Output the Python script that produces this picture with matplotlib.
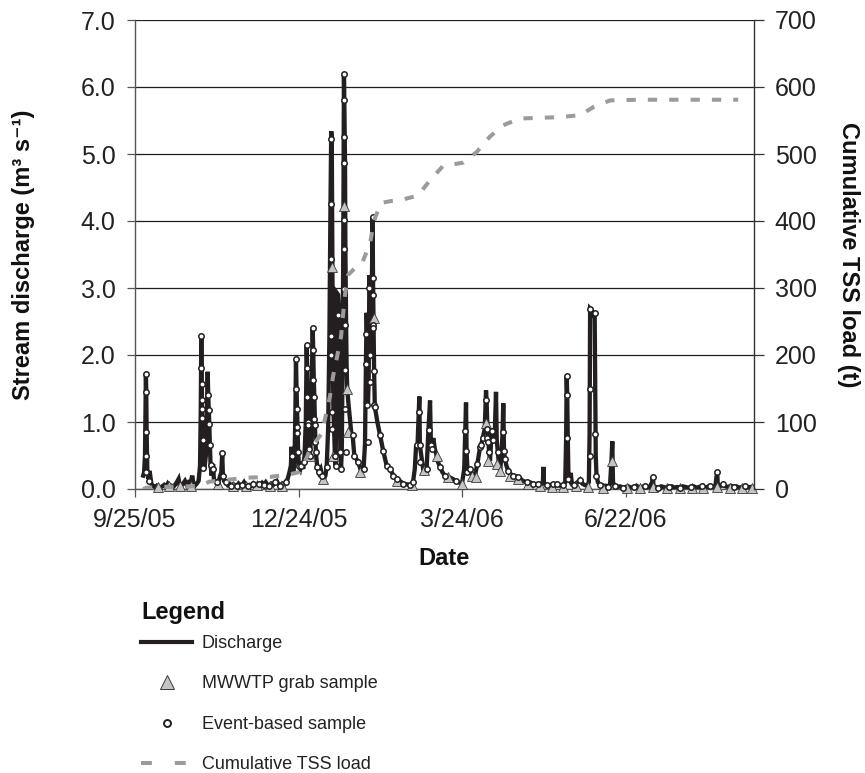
import matplotlib
matplotlib.use("Agg")
import matplotlib.pyplot as plt
from matplotlib.lines import Line2D
from matplotlib.ticker import FixedLocator, FuncFormatter
import matplotlib.dates as mdates
import numpy as np
import pandas as pd

START = pd.Timestamp("2005-09-25")

# stream discharge (days after 9/25/05, m3/s)
Q_DAYS = [
    4.5, 5.0, 5.5, 5.8, 6.0, 6.2, 6.4, 6.6, 6.8, 7.3,
    8.0, 8.4, 9.0, 10, 11, 12, 13, 14, 15, 16,
    17, 18, 19, 20, 21, 22, 23, 24, 24.6, 25.5,
    26.5, 27.5, 28.5, 29.5, 30.5, 31.5, 32.2, 33, 34, 35,
    35.8, 36.2, 36.5, 36.7, 36.9, 37.1, 37.4, 37.7, 38.2, 39,
    39.6, 40.0, 40.3, 40.6, 40.9, 41.2, 41.6, 42.2, 43.0, 43.4,
    44, 45, 46, 47.5, 48, 48.4, 49, 50, 51, 52,
    53, 54, 55, 56, 57, 58, 59, 60, 61, 62,
    63, 64, 65, 66, 67, 68, 69, 70, 71, 72,
    73, 74, 75, 76, 77, 78, 79, 80, 81, 82,
    83, 84, 85, 85.8, 86.2, 86.6, 87.2, 87.8, 88.3, 88.6,
    88.9, 89.2, 89.5, 89.8, 90.2, 91.0, 91.8, 92.6, 93.3, 94.0,
    94.5, 94.8, 95.1, 95.4, 95.7, 96.2, 96.8, 97.3, 97.8, 98.1,
    98.4, 98.7, 99.0, 99.3, 99.7, 100.3, 101.2, 102.2, 103.0, 104.0,
    104.8, 105.5, 106.3, 107.0, 107.6, 108.0, 108.3, 108.6, 108.9, 109.2,
    109.6, 110.0, 110.4, 110.8, 111.0, 111.8, 112.4, 112.7, 113.0, 113.4,
    113.8, 114.3, 114.7, 115.0, 115.2, 115.4, 115.6, 115.8, 116.0, 116.2,
    116.5, 116.8, 117.4, 118.3, 119.0, 119.8, 120.7, 121.8, 122.9, 124.0,
    124.8, 125.8, 126.6, 127.1, 127.5, 127.8, 128.2, 128.6, 129.0, 129.4,
    129.8, 130.3, 130.8, 131.0, 131.3, 131.6, 132.0, 133.4, 134.9, 136.7,
    138.5, 140.4, 142.2, 144.0, 145.8, 147.7, 149.5, 151.4, 153.0, 154.0,
    154.7, 155.5, 156.2, 156.5, 156.8, 157.3, 158.0, 158.7, 159.6, 160.5,
    161.5, 162.4, 162.8, 163.4, 164.2, 165.0, 165.8, 166.8, 167.9, 169.2,
    170.6, 172.0, 173.4, 175.0, 176.5, 178.0, 179.0, 180.0, 181.2, 181.8,
    182.2, 182.5, 183.0, 184.4, 185.5, 186.5, 187.5, 188.4, 189.2, 189.9,
    190.6, 191.4, 192.5, 193.2, 193.5, 193.9, 194.4, 194.9, 195.4, 196.3,
    197.2, 198.0, 198.7, 199.1, 199.7, 200.3, 201.0, 201.8, 202.3, 202.7,
    203.1, 203.6, 204.4, 205.5, 206.8, 208.3, 209.6, 211.0, 212.3, 213.6,
    215.5, 217.4, 219.0, 220.6, 222.0, 223.0, 224.5, 224.8, 225.1, 226.5,
    228.4, 229.8, 231.0, 232.5, 234.0, 235.5, 236.8, 237.3, 237.6, 237.9,
    238.2, 238.6, 239.3, 239.8, 240.4, 241.5, 242.5, 243.5, 245.0, 246.2,
    247.5, 248.8, 249.8, 250.2, 250.5, 251.5, 252.5, 253.0, 253.3, 253.6,
    254.0, 254.8, 256.0, 257.5, 259.0, 260.5, 261.5, 262.3, 262.7, 263.1,
    264.0, 265.5, 267.0, 268.5, 270.0, 271.5, 273.0, 274.5, 276.0, 277.5,
    279.0, 280.5, 282.0, 283.5, 284.6, 285.0, 285.4, 286.5, 288.0, 289.5,
    291.0, 292.5, 294.0, 295.5, 297.0, 298.5, 300.0, 301.5, 303.0, 304.5,
    306.0, 307.5, 309.0, 310.5, 312.0, 313.5, 315.0, 316.5, 318.0, 319.5,
    320.4, 320.8, 322.0, 323.5, 325.0, 326.5, 328.0, 329.5, 331.0, 332.5,
    334.0, 335.5, 337.0, 338.5, 340.0,
]
Q_M3S = [
    0.20, 0.25, 0.50, 1.20, 1.72, 1.45, 0.85, 0.50, 0.25, 0.15,
    0.27, 0.20, 0.08, 0.04, 0.03, 0.05, 0.03, 0.02, 0.04, 0.06,
    0.03, 0.08, 0.04, 0.05, 0.03, 0.06, 0.10, 0.15, 0.06, 0.05,
    0.08, 0.12, 0.06, 0.10, 0.08, 0.20, 0.06, 0.05, 0.08, 0.12,
    0.35, 1.20, 2.29, 1.57, 1.19, 1.00, 0.70, 0.35, 0.30, 0.50,
    1.20, 1.75, 1.40, 1.18, 0.97, 0.66, 0.36, 0.20, 0.37, 0.15,
    0.12, 0.10, 0.12, 0.25, 0.53, 0.20, 0.12, 0.10, 0.06, 0.08,
    0.05, 0.07, 0.06, 0.04, 0.08, 0.05, 0.06, 0.10, 0.05, 0.04,
    0.06, 0.05, 0.08, 0.04, 0.06, 0.07, 0.05, 0.09, 0.06, 0.10,
    0.06, 0.05, 0.08, 0.06, 0.10, 0.12, 0.07, 0.05, 0.08, 0.06,
    0.10, 0.15, 0.25, 0.35, 0.63, 0.30, 0.25, 0.40, 1.20, 1.94,
    1.50, 1.20, 0.93, 0.55, 0.35, 0.30, 0.40, 0.30, 0.50, 1.00,
    2.15, 1.80, 1.38, 0.95, 0.60, 0.50, 0.70, 1.60, 2.40, 2.07,
    1.63, 1.38, 1.05, 0.70, 0.50, 0.33, 0.25, 0.30, 0.20, 0.15,
    0.20, 0.33, 0.90, 2.28, 4.26, 5.34, 5.22, 3.43, 2.00, 1.15,
    0.90, 0.50, 0.35, 1.30, 2.93, 2.90, 2.60, 1.78, 0.55, 0.30,
    0.55, 2.00, 4.01, 6.20, 5.80, 5.26, 4.86, 3.58, 2.98, 2.45,
    1.78, 1.50, 1.30, 1.05, 0.85, 0.80, 0.50, 0.45, 0.40, 0.30,
    0.27, 0.30, 0.68, 1.87, 2.63, 2.31, 1.25, 1.60, 3.19, 3.00,
    2.00, 2.90, 4.06, 3.15, 2.45, 1.76, 1.23, 1.00, 0.80, 0.56,
    0.35, 0.30, 0.20, 0.15, 0.12, 0.08, 0.07, 0.06, 0.10, 0.30,
    0.64, 0.65, 1.15, 1.38, 0.65, 0.55, 0.40, 0.28, 0.25, 0.30,
    0.88, 1.32, 0.76, 0.65, 0.76, 0.60, 0.52, 0.40, 0.33, 0.25,
    0.20, 0.19, 0.17, 0.15, 0.12, 0.10, 0.09, 0.08, 0.30, 0.87,
    1.29, 0.56, 0.30, 0.30, 0.21, 0.18, 0.25, 0.37, 0.50, 0.62,
    0.66, 0.76, 0.90, 1.47, 1.33, 0.98, 0.76, 0.55, 0.42, 0.87,
    0.70, 0.80, 1.45, 0.73, 0.55, 0.38, 0.27, 0.55, 0.85, 1.28,
    0.56, 0.45, 0.35, 0.27, 0.22, 0.20, 0.19, 0.18, 0.15, 0.12,
    0.10, 0.10, 0.08, 0.07, 0.08, 0.06, 0.10, 0.33, 0.08, 0.06,
    0.05, 0.07, 0.05, 0.08, 0.05, 0.06, 0.10, 0.76, 1.69, 1.40,
    0.76, 0.15, 0.12, 0.24, 0.10, 0.06, 0.08, 0.10, 0.14, 0.08,
    0.06, 0.05, 0.10, 0.82, 2.69, 2.66, 2.60, 2.63, 1.49, 0.49,
    0.20, 0.10, 0.06, 0.04, 0.05, 0.03, 0.08, 0.45, 0.71, 0.10,
    0.05, 0.03, 0.04, 0.02, 0.03, 0.04, 0.02, 0.03, 0.05, 0.02,
    0.03, 0.04, 0.02, 0.04, 0.10, 0.18, 0.05, 0.03, 0.02, 0.04,
    0.03, 0.02, 0.03, 0.04, 0.02, 0.03, 0.02, 0.04, 0.03, 0.02,
    0.03, 0.04, 0.02, 0.03, 0.04, 0.02, 0.03, 0.05, 0.03, 0.05,
    0.26, 0.05, 0.04, 0.07, 0.04, 0.03, 0.05, 0.03, 0.04, 0.02,
    0.03, 0.04, 0.02, 0.03, 0.03,
]

# event-based samples
EV_DAYS = [
    6.0, 6.0, 6.1, 6.2, 6.3, 7.5, 36.5, 36.6, 36.7, 36.8,
    36.9, 37.0, 37.3, 37.7, 40.3, 40.6, 40.9, 41.2, 41.6, 43.0,
    48.0, 48.4, 45, 50, 53, 56, 59, 62, 65, 68,
    71, 74, 77, 80, 83, 86.2, 88.6, 88.7, 88.9, 89.1,
    89.3, 89.8, 90.5, 91.5, 93.0, 94.5, 94.6, 94.8, 95.0, 95.2,
    95.5, 96.2, 97.8, 97.9, 98.1, 98.3, 98.6, 98.8, 99.2, 99.6,
    100.3, 101.2, 103.0, 105.5, 107.8, 107.8, 107.9, 107.9, 108.0, 108.3,
    108.6, 110.0, 110.4, 111.5, 112.7, 113.4, 115.0, 115.0, 115.0, 115.1,
    115.1, 115.2, 115.3, 115.4, 115.6, 115.8, 116.2, 119.8, 120.7, 122.9,
    125.8, 127.1, 127.3, 127.6, 128.0, 129.0, 129.2, 129.4, 130.8, 130.8,
    130.9, 131.0, 131.1, 131.3, 131.6, 132.0, 134.9, 136.7, 138.5, 140.4,
    142.2, 144.0, 147.7, 151.4, 153.0, 155.0, 156.3, 156.6, 157.0, 160.5,
    161.8, 163.0, 163.5, 167.9, 170.6, 176.5, 181.8, 182.3, 182.6, 184.4,
    188.4, 189.9, 190.6, 191.4, 193.2, 193.6, 193.9, 194.2, 194.9, 196.3,
    197.2, 199.7, 202.3, 202.9, 203.5, 205.5, 208.3, 211.0, 215.5, 219.0,
    222.0, 226.5, 229.8, 232.5, 235.5, 237.6, 237.7, 237.9, 238.6, 241.5,
    245.0, 250.4, 250.4, 250.5, 253.0, 253.2, 253.6, 256.0, 260.5, 264.0,
    268.5, 274.5, 280.5, 285.0, 288.0, 294.0, 300.0, 306.0, 312.0, 316.5,
    320.4, 323.5, 329.5, 335.5,
]
EV_Q = [
    1.72, 1.45, 0.85, 0.50, 0.25, 0.12, 2.29, 1.81, 1.57, 1.33,
    1.19, 1.06, 0.73, 0.31, 1.40, 1.18, 0.97, 0.66, 0.36, 0.30,
    0.53, 0.20, 0.10, 0.10, 0.05, 0.04, 0.06, 0.04, 0.08, 0.07,
    0.06, 0.05, 0.10, 0.05, 0.10, 0.50, 1.94, 1.49, 1.20, 0.93,
    0.83, 0.55, 0.35, 0.35, 0.40, 2.15, 1.80, 1.38, 1.00, 0.95,
    0.60, 0.50, 2.40, 2.07, 1.63, 1.38, 1.05, 0.95, 0.70, 0.55,
    0.33, 0.25, 0.20, 0.33, 5.22, 4.26, 3.43, 2.28, 2.00, 1.15,
    0.90, 0.50, 0.35, 2.60, 0.55, 0.30, 6.20, 5.80, 5.26, 4.86,
    4.01, 3.58, 2.98, 2.45, 1.78, 1.20, 0.55, 0.80, 0.50, 0.40,
    0.30, 1.87, 2.31, 1.25, 0.70, 3.00, 2.00, 1.60, 4.06, 3.15,
    2.89, 2.45, 2.40, 1.76, 1.25, 1.23, 0.80, 0.56, 0.35, 0.30,
    0.20, 0.15, 0.08, 0.06, 0.10, 0.65, 1.15, 0.65, 0.40, 0.30,
    0.88, 0.65, 0.60, 0.33, 0.20, 0.12, 0.87, 0.56, 0.25, 0.30,
    0.37, 0.62, 0.66, 0.76, 1.33, 0.89, 0.76, 0.70, 0.55, 0.87,
    0.73, 0.55, 0.85, 0.56, 0.45, 0.27, 0.20, 0.18, 0.10, 0.08,
    0.08, 0.06, 0.07, 0.08, 0.06, 1.69, 1.40, 0.76, 0.15, 0.06,
    0.14, 1.49, 0.49, 2.69, 2.63, 0.82, 0.20, 0.06, 0.03, 0.05,
    0.02, 0.03, 0.04, 0.18, 0.02, 0.03, 0.02, 0.03, 0.04, 0.05,
    0.26, 0.07, 0.03, 0.04,
]

# MWWTP grab samples
GRAB_DAYS = [
    12.7, 18.7, 24.8, 31.0, 45.7, 54.0, 61.0, 67.0, 74.3, 80.7,
    96.2, 103.7, 108.3, 109.2, 115.2, 116.5, 117.4, 123.9, 131.7, 144.0,
    152.3, 159.0, 166.0, 172.4, 179.8, 185.3, 187.7, 193.2, 194.5, 199.0,
    201.0, 206.4, 211.0, 216.3, 223.0, 229.5, 235.8, 242.5, 249.5, 257.8,
    262.7, 270.6, 278.0, 285.3, 292.6, 300.0, 306.4, 312.8, 320.2, 327.5,
    333.9, 339.4,
]
GRAB_Q = [
    0.03, 0.05, 0.04, 0.05, 0.08, 0.05, 0.04, 0.06, 0.05, 0.05,
    0.50, 0.15, 3.32, 0.50, 4.22, 1.50, 0.85, 0.26, 2.55, 0.12,
    0.06, 0.28, 0.50, 0.18, 0.08, 0.20, 0.18, 0.98, 0.42, 0.38,
    0.27, 0.20, 0.15, 0.08, 0.04, 0.03, 0.03, 0.04, 0.03, 0.02,
    0.42, 0.02, 0.02, 0.03, 0.02, 0.02, 0.02, 0.02, 0.03, 0.02,
    0.02, 0.02,
]

# cumulative TSS load (t)
TSS_DAYS = [
    4.5, 6.5, 14, 30, 36, 41, 62.4, 74.3, 85.3, 88.6,
    90.8, 97.3, 102.8, 107.3, 109.0, 111.2, 113.4, 114.5, 115.6, 117.2,
    121.1, 125.0, 129.4, 131.6, 135.4, 141.5, 145.9, 155.8, 162.4, 169.5,
    180.5, 188.1, 195.4, 202.7, 211.9, 233.9, 245.0, 252.3, 261.5, 278.0,
    332.0,
]
TSS_T = [
    0, 2, 3, 4, 5, 11, 17, 18, 22, 24,
    26, 63, 83, 138, 168, 197, 227, 260, 290, 319,
    330, 337, 367, 401, 427, 430, 431, 438, 461, 482,
    487, 503, 526, 543, 553, 555, 558, 570, 580, 581,
    581,
]

TICK_DAYS = [0, 90, 180, 270]

Q_COLOR = "#231f20"
TSS_COLOR = "#9b9b9b"
TRI_FACE = "#c4c4c4"


def to_dates(days):
    return (START + pd.to_timedelta(np.asarray(days, dtype=float), unit="D")).to_numpy()


def date_label(x, pos=None):
    d = mdates.num2date(x)
    return f"{d.month}/{d.day}/{d:%y}"


plt.rcParams["font.family"] = ["Liberation Sans", "DejaVu Sans"]

fig = plt.figure(figsize=(8.65, 7.73), dpi=100)
ax = fig.add_axes([135 / 865, 1 - 489 / 773, 619 / 865, 469 / 773])
ax2 = ax.twinx()

ax.plot(to_dates(Q_DAYS), Q_M3S, color=Q_COLOR, lw=3.1, solid_joinstyle="miter", zorder=3)
ax.plot(to_dates(GRAB_DAYS), GRAB_Q, ls="none", marker="^", ms=7.5, mfc=TRI_FACE,
        mec="#3a3a3a", mew=0.6, zorder=4, clip_on=False)
ax.plot(to_dates(EV_DAYS), EV_Q, ls="none", marker="o", ms=3.9, mfc="white",
        mec=Q_COLOR, mew=1.1, zorder=5, clip_on=False)

ax2.plot(to_dates(TSS_DAYS), TSS_T, color=TSS_COLOR, lw=2.9, dashes=(2.3, 3.0),
         dash_capstyle="butt", zorder=3)

ax.set_xlim(to_dates([0, 340.7]))
ax.set_ylim(0, 7)
ax2.set_ylim(0, 700)

ax.xaxis.set_major_locator(FixedLocator(mdates.date2num(to_dates(TICK_DAYS))))
ax.xaxis.set_major_formatter(FuncFormatter(date_label))
ax.set_yticks(np.arange(0, 7.01, 1.0))
ax.yaxis.set_major_formatter(FuncFormatter(lambda v, p: f"{v:.1f}"))
ax2.set_yticks(np.arange(0, 701, 100))

ax.yaxis.grid(True, color="#1e1e1e", lw=0.9)
ax.set_axisbelow(True)

for a in (ax, ax2):
    a.spines["top"].set_visible(False)
ax.spines["right"].set_visible(False)
ax2.spines["left"].set_visible(False)
ax2.spines["bottom"].set_visible(False)
ax.spines["left"].set_color("#555555")
ax.spines["bottom"].set_color("#555555")
ax2.spines["right"].set_color("#333333")
for sp in ("left", "bottom"):
    ax.spines[sp].set_linewidth(1.0)
ax2.spines["right"].set_linewidth(1.0)

ax.tick_params(axis="y", direction="out", length=6, width=0.9, color="#555555",
               pad=8, labelsize=18, labelcolor="#222222")
ax.tick_params(axis="x", direction="out", length=6, width=0.9, color="#555555",
               pad=8, labelsize=18, labelcolor="#222222")
ax2.tick_params(axis="y", direction="out", length=7, width=0.9, color="#333333",
                pad=8, labelsize=18, labelcolor="#222222")

ax.set_ylabel("Stream discharge (m³ s⁻¹)", fontsize=17, fontweight="bold", color="#111111")
ax.yaxis.set_label_coords(-0.162, 0.5)
ax2.set_ylabel("Cumulative TSS load (t)", fontsize=17, fontweight="bold", color="#111111",
               rotation=270, va="center")
ax2.yaxis.set_label_coords(1.152, 0.5)
ax.set_xlabel("Date", fontsize=17, fontweight="bold", color="#111111")
ax.xaxis.set_label_coords(0.5, -0.124)

# legend title drawn separately so the gap below it can be set
fig.text(141 / 865, 1 - 612 / 773, "Legend", fontsize=17, fontweight="bold",
         color="#111111", ha="left", va="center")
handles = [
    Line2D([], [], color=Q_COLOR, lw=3.0),
    Line2D([], [], ls="none", marker="^", ms=10, mfc=TRI_FACE, mec="#3a3a3a", mew=0.7),
    Line2D([], [], ls="none", marker="o", ms=5, mfc="white", mec=Q_COLOR, mew=1.4),
    Line2D([], [], color=TSS_COLOR, lw=2.9, dashes=(2.7, 5.7), dash_capstyle="butt"),
]
labels = ["Discharge", "MWWTP grab sample", "Event-based sample", "Cumulative TSS load"]
leg = fig.legend(handles, labels, loc="upper left", bbox_to_anchor=(141 / 865, 1 - 635 / 773),
                 frameon=False, fontsize=13,
                 handlelength=2.85, handletextpad=0.52, labelspacing=1.3,
                 borderpad=0, borderaxespad=0)
for t in leg.get_texts():
    t.set_color("#222222")

fig.savefig("out.png", dpi=100)
